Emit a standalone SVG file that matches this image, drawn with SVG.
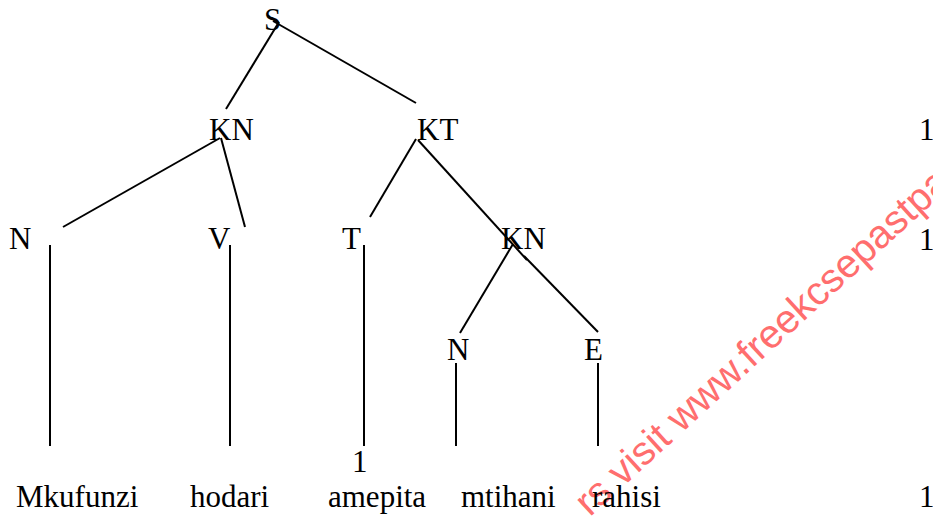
<svg xmlns="http://www.w3.org/2000/svg" width="933" height="516" viewBox="0 0 933 516">
<style>
.t{font-family:"Liberation Serif","Times New Roman",serif;font-size:31px;fill:#000}
.e{stroke:#000;stroke-width:2;fill:none;stroke-linecap:butt}
.wm{font-family:"Liberation Sans",Arial,sans-serif;font-size:40px;fill:#ff6e6e}
</style>
<rect width="933" height="516" fill="#fff"/>
<text class="wm" transform="translate(589.8,517.5) rotate(-42.5)">rs visit www.freekcsepastpapers</text>
<g id="connectors">
<line class="e" x1="279" y1="22" x2="226" y2="109"/>
<line class="e" x1="273" y1="21" x2="416" y2="103"/>
<line class="e" x1="220" y1="138" x2="63" y2="227"/>
<line class="e" x1="221" y1="138" x2="245" y2="227"/>
<line class="e" x1="416" y1="139" x2="370" y2="217"/>
<line class="e" x1="418" y1="140" x2="527" y2="260"/>
<line class="e" x1="524" y1="256" x2="598" y2="332"/>
<line class="e" x1="513" y1="244" x2="460" y2="333"/>
<line class="e" x1="50" y1="245" x2="50" y2="446"/>
<line class="e" x1="230" y1="245" x2="230" y2="446"/>
<line class="e" x1="364" y1="245" x2="364" y2="446"/>
<line class="e" x1="456" y1="363" x2="456" y2="446"/>
<line class="e" x1="598" y1="363" x2="598" y2="446"/>
</g>
<g id="S"><text class="t" x="264" y="30">S</text></g>
<g id="KN1"><text class="t" x="209" y="140">KN</text></g>
<g id="KT"><text class="t" x="417" y="140">KT</text></g>
<g id="N1"><text class="t" x="9" y="249">N</text></g>
<g id="V"><text class="t" x="208" y="249">V</text></g>
<g id="T"><text class="t" x="342" y="249">T</text></g>
<g id="KN2"><text class="t" x="501" y="249">KN</text></g>
<g id="N2"><text class="t" x="447" y="360">N</text></g>
<g id="E"><text class="t" x="584" y="360">E</text></g>
<g id="w1"><text class="t" x="16" y="507">Mkufunzi</text></g>
<g id="w2"><text class="t" x="190" y="507">hodari</text></g>
<g id="w3"><text class="t" x="328" y="507">amepita</text></g>
<g id="w4"><text class="t" x="461" y="507">mtihani</text></g>
<g id="w5"><text class="t" x="592" y="507">rahisi</text></g>
<g id="marks">
<text class="t" x="919" y="140">1</text>
<text class="t" x="919" y="250">1</text>
<text class="t" x="352" y="472">1</text>
<text class="t" x="919" y="507">1</text>
</g>
</svg>
